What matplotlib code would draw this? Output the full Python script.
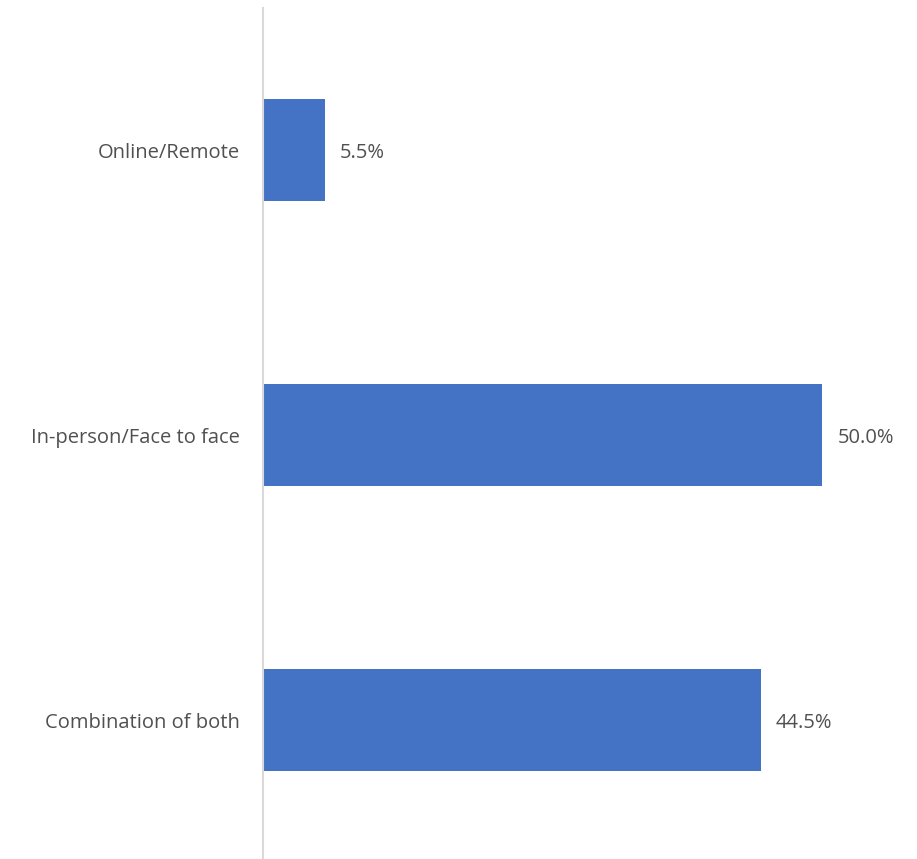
import matplotlib
matplotlib.use('Agg')
import matplotlib.pyplot as plt

categories = ["Online/Remote", "In-person/Face to face", "Combination of both"]
values = [5.5, 50.0, 44.5]

W, H = 917, 859
fig = plt.figure(figsize=(W / 100, H / 100), dpi=100)
# axes spans 855 px vertically so each category band is 285 px
ax = fig.add_axes([263 / W, (859 - 862.5) / H, (905 - 263) / W, 855 / H])

ypos = range(len(categories))
ax.barh(ypos, values, height=0.355, color='#4472C4')
ax.set_xlim(0, 57.4)
ax.set_ylim(2.5, -0.5)

for y, v in zip(ypos, values):
    ax.text(v + 1.35, y + 0.01, f"{v:.1f}%", va='center', ha='left',
            fontsize=14.5, color='#505050', family='Open Sans')

ax.set_yticks(list(ypos))
ax.set_yticklabels(categories, fontsize=14.5, color='#505050', family='Open Sans')
ax.tick_params(axis='y', length=0, pad=16.5)
ax.set_xticks([])
for s in ['top', 'right', 'bottom']:
    ax.spines[s].set_visible(False)
ax.spines['left'].set_color('#D9D9D9')
ax.spines['left'].set_linewidth(1.5)

plt.savefig('out.png', dpi=100)
